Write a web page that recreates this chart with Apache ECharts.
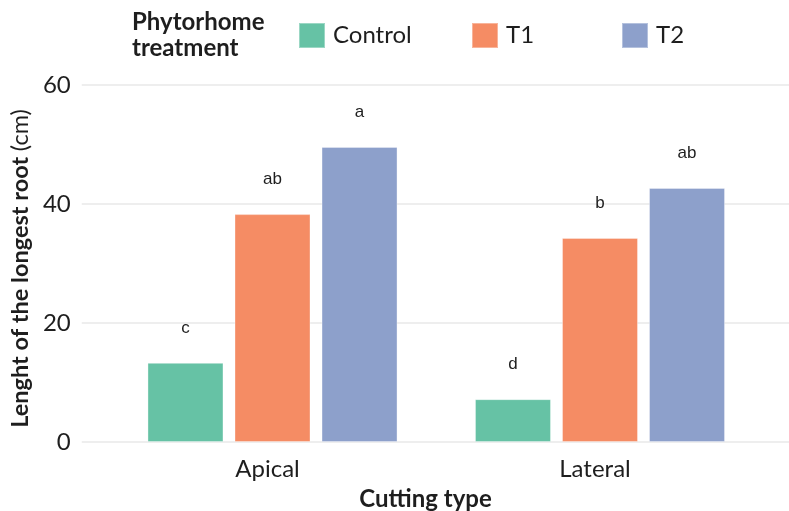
<!DOCTYPE html>
<html>
<head>
<meta charset="utf-8">
<script src="https://cdn.jsdelivr.net/npm/echarts@6/dist/echarts.min.js"></script>
<style>
  html, body { margin: 0; padding: 0; background: #ffffff; }
  #chart { width: 789px; height: 511px; }
</style>
</head>
<body>
<div id="chart"></div>
<script>
// Cutting types on the x axis
const categories = ['Apical', 'Lateral'];

// Length of the longest root (cm) per treatment
const controlValues = [13.3, 7.2];
const t1Values = [38.3, 34.3];
const t2Values = [49.6, 42.7];

// Significance letters shown above each bar
const controlLetters = ['c', 'd'];
const t1Letters = ['ab', 'b'];
const t2Letters = ['a', 'ab'];

// Value axis ticks
const yMin = 0;
const yMax = 60;
const yStep = 20;

const seriesNames = ['Control', 'T1', 'T2'];
const seriesColors = ['#66c2a5', '#f58c64', '#8da0cb'];

const uiFont = 'Lato, "Open Sans", sans-serif';
const letterFont = '"Liberation Sans", Arial, sans-serif';
const textColor = '#1e1e1e';

function barSeries(name, values, letters, color) {
  return {
    name: name,
    type: 'bar',
    xAxisIndex: 0,
    yAxisIndex: 0,
    barWidth: 76,
    barGap: '14.5%',
    data: values,
    itemStyle: { color: color, borderColor: 'rgba(255,255,255,0.35)', borderWidth: 1 },
    label: {
      show: true,
      position: 'top',
      distance: 26,
      formatter: (p) => letters[p.dataIndex],
      fontFamily: letterFont,
      fontSize: 17,
      color: textColor
    }
  };
}

function legendFor(name, left) {
  return {
    data: [name],
    left: left,
    top: 22,
    padding: 0,
    itemWidth: 26,
    itemHeight: 25,
    itemGap: 0,
    icon: 'rect',
    selectedMode: false,
    textStyle: { fontFamily: uiFont, fontSize: 24, color: textColor, padding: [0, 0, 0, 3] }
  };
}

const chart = echarts.init(document.getElementById('chart'), null, { renderer: 'canvas' });

chart.setOption({
  animation: false,
  backgroundColor: '#ffffff',
  title: [
    {
      text: 'Phytorhome\ntreatment',
      left: 132,
      top: 9,
      padding: 0,
      textStyle: { fontFamily: uiFont, fontSize: 24, fontWeight: 'bold', color: textColor, lineHeight: 26 }
    },
    {
      text: 'Cutting type',
      left: 425.5,
      top: 487,
      padding: 0,
      textAlign: 'center',
      textStyle: { fontFamily: uiFont, fontSize: 24, fontWeight: 'bold', color: textColor }
    }
  ],
  legend: [
    legendFor('Control', 298),
    legendFor('T1', 471),
    legendFor('T2', 621)
  ],
  grid: [
    // bars
    { left: 108.75, right: 25.25, top: 85, bottom: 69 },
    // value axis with full-width grid lines
    { left: 78, right: 0, top: 85, bottom: 69 }
  ],
  xAxis: [
    {
      type: 'category',
      gridIndex: 0,
      data: categories,
      axisLine: { show: false },
      axisTick: { show: false },
      axisLabel: { fontFamily: uiFont, fontSize: 24, color: textColor, margin: 15, padding: [0, 10, 0, 0] }
    },
    {
      type: 'category',
      gridIndex: 1,
      data: categories,
      show: false
    }
  ],
  yAxis: [
    {
      type: 'value',
      gridIndex: 0,
      min: yMin,
      max: yMax,
      interval: yStep,
      show: false,
      splitLine: { show: false }
    },
    {
      type: 'value',
      gridIndex: 1,
      min: yMin,
      max: yMax,
      interval: yStep,
      axisLine: { show: false },
      axisTick: { show: false },
      axisLabel: { fontFamily: uiFont, fontSize: 24, color: textColor, margin: 11, padding: [0, 0, 4, 0] },
      splitLine: { lineStyle: { color: '#e8e8e8', width: 1.5 } },
      name: '{b|Lenght of the longest root }{n|(cm)}',
      nameLocation: 'middle',
      nameRotate: 90,
      nameGap: 42,
      nameTextStyle: {
        padding: [0, 10, 0, 0],
        rich: {
          b: { fontFamily: uiFont, fontSize: 23.5, fontWeight: 'bold', color: textColor },
          n: { fontFamily: uiFont, fontSize: 23.5, color: textColor }
        }
      }
    }
  ],
  series: [
    barSeries(seriesNames[0], controlValues, controlLetters, seriesColors[0]),
    barSeries(seriesNames[1], t1Values, t1Letters, seriesColors[1]),
    barSeries(seriesNames[2], t2Values, t2Letters, seriesColors[2])
  ]
});
</script>
</body>
</html>
